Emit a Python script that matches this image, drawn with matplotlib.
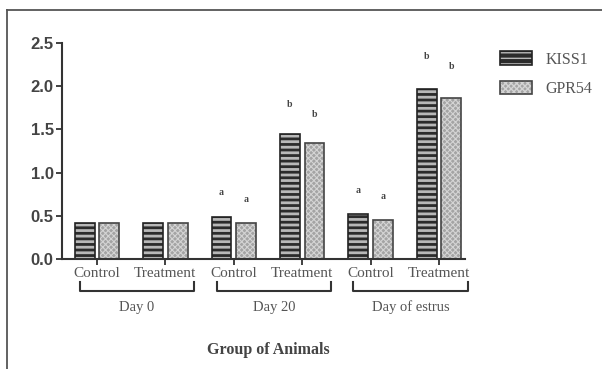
import matplotlib
matplotlib.use("Agg")
from matplotlib import pyplot as plt
from matplotlib import transforms
from matplotlib.patches import Patch
from matplotlib.lines import Line2D
import numpy as np

categories = ["Control", "Treatment", "Control", "Treatment", "Control", "Treatment"]
groups = ["Day 0", "Day 20", "Day of estrus"]
kiss1 = [0.42, 0.42, 0.49, 1.45, 0.52, 1.97]
gpr54 = [0.42, 0.42, 0.42, 1.34, 0.45, 1.86]
kiss1_marks = ["", "", "a", "b", "a", "b"]
gpr54_marks = ["", "", "a", "b", "a", "b"]
yticks = [0.0, 0.5, 1.0, 1.5, 2.0, 2.5]

serif = "Liberation Serif"
sans = "Liberation Sans"

fig = plt.figure(figsize=(6.02, 3.69), dpi=100)
ax = fig.add_axes([62 / 602, 1 - 259 / 369, (465 - 62) / 602, 216 / 369])

x = np.arange(len(categories))
w = 0.29
off = 0.18

# KISS1: dark bars, light horizontal stripes
with plt.rc_context({"hatch.linewidth": 2.0}):
    ax.bar(x - off, kiss1, w, color="#2b2b2b", edgecolor="#b8b8b8",
           hatch="---", linewidth=0)
    h1a = Patch(facecolor="#2b2b2b", edgecolor="#b8b8b8", hatch="---", linewidth=0)
ax.bar(x - off, kiss1, w, fill=False, edgecolor="#222222", linewidth=1.2)
# GPR54: gray bars, fine cross hatch
with plt.rc_context({"hatch.linewidth": 0.8}):
    ax.bar(x + off, gpr54, w, color="#a4a4a4", edgecolor="#d4d4d4",
           hatch="xxxxxx", linewidth=0)
    h2a = Patch(facecolor="#a4a4a4", edgecolor="#d4d4d4", hatch="xxxxxx", linewidth=0)
ax.bar(x + off, gpr54, w, fill=False, edgecolor="#444444", linewidth=1.2)

for xi, v, m in zip(x - off, kiss1, kiss1_marks):
    if m:
        ax.text(xi, v * 1.07 + 0.24, m, ha="center", va="center", fontsize=7,
                fontweight="bold", color="#444444", family=serif)
for xi, v, m in zip(x + off, gpr54, gpr54_marks):
    if m:
        ax.text(xi, v * 1.07 + 0.24, m, ha="center", va="center", fontsize=7,
                fontweight="bold", color="#444444", family=serif)

ax.set_xlim(-0.51, 5.38)
ax.set_ylim(0, 2.5)
ax.set_yticks(yticks)
ax.set_yticklabels(["%.1f" % t for t in yticks], family=sans, fontweight="bold",
                   fontsize=12, color="#444444")
ax.set_xticks(x)
ax.set_xticklabels(categories, family=serif, fontsize=11, color="#555555")
ax.tick_params(axis="both", length=4, width=1.3, color="#333333")
ax.tick_params(axis="x", pad=2)
ax.tick_params(axis="y", pad=2)
for s in ["top", "right"]:
    ax.spines[s].set_visible(False)
for s in ["left", "bottom"]:
    ax.spines[s].set_linewidth(1.5)
    ax.spines[s].set_color("#333333")

# group brackets under the category labels
tr = transforms.blended_transform_factory(ax.transData, ax.transAxes)
for i, g in enumerate(groups):
    x0 = 2 * i - 0.25
    x1 = 2 * i + 1 + 0.42
    ax.plot([x0, x0, x1, x1], [-0.106, -0.148, -0.148, -0.106], transform=tr,
            color="#333333", lw=1.5, clip_on=False)
    ax.text((x0 + x1) / 2, -0.225, g, transform=tr, ha="center", va="center",
            family=serif, fontsize=10.5, color="#555555")

fig.text(268 / 602, 1 - 350 / 369, "Group of Animals", ha="center", va="center",
         family=serif, fontweight="bold", fontsize=11.5, color="#444444")

# legend
h1 = (h1a, Patch(fill=False, edgecolor="#222222", linewidth=1.2))
h2 = (h2a, Patch(fill=False, edgecolor="#444444", linewidth=1.2))
leg = fig.legend([h1, h2], ["KISS1", "GPR54"], loc="upper left",
                 bbox_to_anchor=(486 / 602, 1 - 37 / 369), frameon=False,
                 handlelength=2.0, handleheight=0.9, labelspacing=0.85,
                 handletextpad=0.8, prop={"family": serif, "size": 11.5})
for t in leg.get_texts():
    t.set_color("#555555")

# outer frame lines
fig.add_artist(Line2D([7 / 602, 1.0], [1 - 10 / 369, 1 - 10 / 369],
                      transform=fig.transFigure, color="#555555", lw=1.3))
fig.add_artist(Line2D([7 / 602, 7 / 602], [0, 1 - 10 / 369],
                      transform=fig.transFigure, color="#555555", lw=1.3))

fig.savefig("out.png", dpi=100)
